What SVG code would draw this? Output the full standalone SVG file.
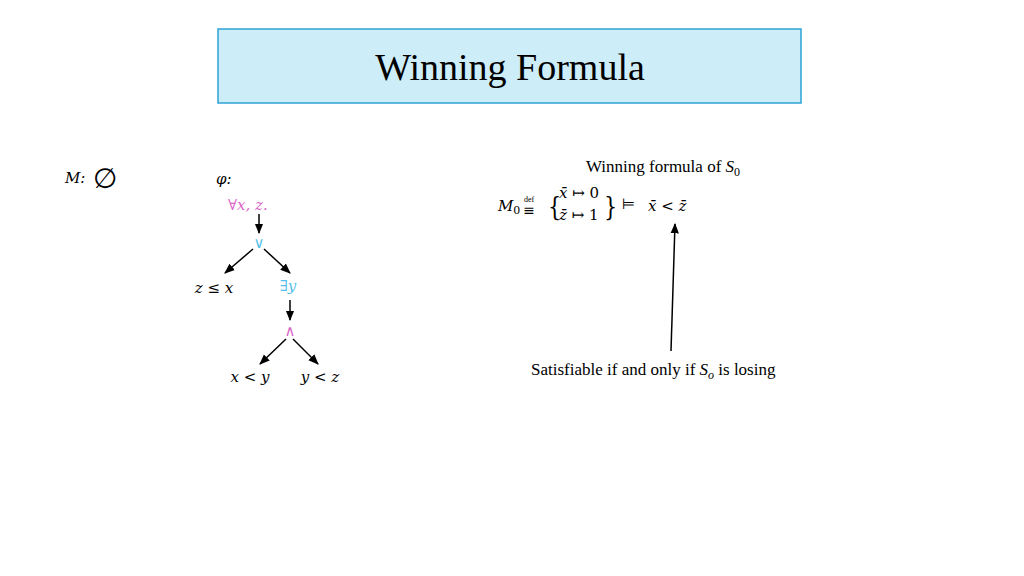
<svg xmlns="http://www.w3.org/2000/svg" width="1024" height="576" viewBox="0 0 1024 576">
<style>
.m{font-family:"DejaVu Serif","Liberation Serif",serif;font-style:italic;font-size:15px;fill:#000}
.t{font-family:"Liberation Serif",serif;font-size:17px;fill:#000}
.pk{fill:#d966c6}.bl{fill:#55c0ea}
.c line{stroke:#000;stroke-width:1.5;marker-end:url(#a)}
</style>
<defs><marker id="a" viewBox="0 0 10 10" refX="9" refY="5" markerWidth="7" markerHeight="7" orient="auto"><path d="M0,1L10,5L0,9z" fill="#000"/></marker></defs>
<rect x="0" y="0" width="1024" height="576" fill="#fff"/>
<g id="title"><rect x="218" y="29" width="583" height="74" fill="#cdedf8" stroke="#2ea3d6" stroke-width="1.5"/>
<text x="510" y="80" text-anchor="middle" font-family="Liberation Serif,serif" font-size="38">Winning Formula</text></g>
<g id="M"><text x="65" y="183" class="m">M:</text><text x="93" y="188" font-family="DejaVu Sans,sans-serif" font-size="28">∅</text></g>
<g id="phi"><text x="216" y="184" class="m">φ:</text></g>
<g id="forall"><text x="228" y="210" class="m pk">∀x, z.</text></g>
<g id="or"><text x="259" y="248" text-anchor="middle" class="m bl" font-style="normal">∨</text></g>
<g id="zlex"><text x="214" y="293" text-anchor="middle" class="m">z ≤ x</text></g>
<g id="exy"><text x="288" y="291" text-anchor="middle" class="m bl">∃y</text></g>
<g id="and"><text x="290" y="336" text-anchor="middle" class="m pk" font-style="normal">∧</text></g>
<g id="xly"><text x="250" y="382" text-anchor="middle" class="m">x &lt; y</text></g>
<g id="ylz"><text x="320" y="382" text-anchor="middle" class="m">y &lt; z</text></g>
<g class="c">
<line x1="259" y1="214" x2="259" y2="233"/>
<line x1="253" y1="249" x2="225" y2="273"/>
<line x1="264" y1="249" x2="290" y2="273"/>
<line x1="290" y1="300" x2="290" y2="320"/>
<line x1="286" y1="339" x2="260" y2="364"/>
<line x1="293" y1="339" x2="318" y2="364"/>
<line x1="671" y1="351" x2="675" y2="224"/>
</g>
<g id="wf"><text x="586" y="172" class="t">Winning formula of <tspan font-style="italic">S</tspan><tspan font-size="12" dy="4">0</tspan></text></g>
<g id="M0">
<text x="498" y="211" class="m">M<tspan font-size="11" dy="3" font-style="normal">0</tspan></text>
<text x="529" y="202" font-family="Liberation Serif,serif" font-size="8" text-anchor="middle">def</text>
<text x="529" y="215" font-family="DejaVu Sans,sans-serif" font-size="14" text-anchor="middle">≡</text>
<text x="548" y="216" font-family="DejaVu Serif,serif" font-size="26" transform="scale(0.8,1)" transform-origin="548 216">{</text>
<text x="559" y="198" class="m">x̄ ↦ <tspan font-style="normal">0</tspan></text>
<text x="559" y="220" class="m">z̄ ↦ <tspan font-style="normal">1</tspan></text>
<text x="604" y="216" font-family="DejaVu Serif,serif" font-size="26" transform="scale(0.8,1)" transform-origin="604 216">}</text>
<text x="622" y="209" font-family="DejaVu Sans,sans-serif" font-size="15">⊨</text>
<text x="648" y="211" class="m">x̄ &lt; z̄</text>
</g>
<g id="sat"><text x="531" y="375" class="t">Satisfiable if and only if <tspan font-style="italic">S</tspan><tspan font-size="12" dy="4" font-style="italic">o</tspan><tspan dy="-4"> is losing</tspan></text></g>
</svg>
